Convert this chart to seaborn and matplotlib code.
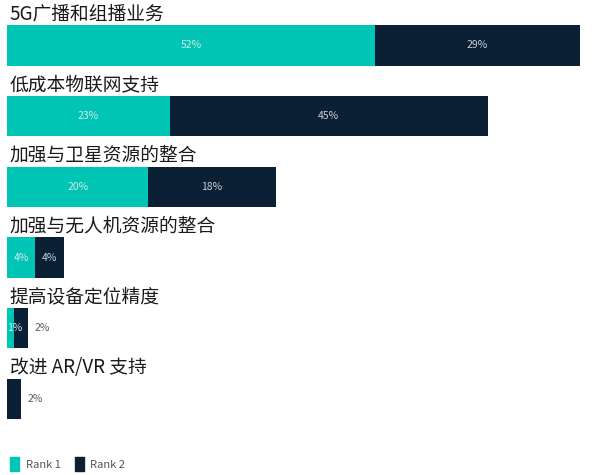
import matplotlib
matplotlib.use("Agg")
import matplotlib.pyplot as plt
import matplotlib.patches as mpatches
import seaborn as sns
import pandas as pd

# data
categories = ["5G广播和组播业务", "低成本物联网支持", "加强与卫星资源的整合",
              "加强与无人机资源的整合", "提高设备定位精度", "改进 AR/VR 支持"]
rank1 = [52, 23, 20, 4, 1, 0]
rank2 = [29, 45, 18, 4, 2, 2]

teal = "#00C4B4"
navy = "#0B1F35"

sns.set_theme(style="white")
plt.rcParams["font.family"] = ["Noto Sans CJK SC", "DejaVu Sans"]

df = pd.DataFrame({"cat": categories, "rank1": rank1, "rank2": rank2})
df["total"] = df["rank1"] + df["rank2"]

fig = plt.figure(figsize=(5.98, 4.75), dpi=100)
ax = fig.add_axes([7 / 598, 0, 591 / 598, 1])

# stacked bars: total in navy, rank 1 drawn over it
sns.barplot(data=df, x="total", y="cat", color=navy, width=0.57,
            saturation=1, linewidth=0, ax=ax, orient="h")
sns.barplot(data=df, x="rank1", y="cat", color=teal, width=0.57,
            saturation=1, linewidth=0, ax=ax, orient="h")

px_per_unit = 7.07
ax.set_xlim(0, 591 / px_per_unit)
ax.set_ylim((475 - 45.5) / 70.7, -45.5 / 70.7)
ax.axis("off")

for i, row in df.iterrows():
    ax.text(0.4, i - 0.45, row["cat"], fontsize=13.5, color="#1a1a1a",
            ha="left", va="center")
    r1, r2 = row["rank1"], row["rank2"]
    if r1 > 0:
        xpos = r1 / 2 if r1 > 2 else 1.15
        ax.text(xpos, i, f"{r1}%", fontsize=7.5, color="#cdeeea",
                ha="center", va="center", fontweight="medium")
    if r2 > 2:
        ax.text(r1 + r2 / 2, i, f"{r2}%", fontsize=7.5, color="#c9cfd6",
                ha="center", va="center", fontweight="medium")
    elif r2 > 0:
        ax.text(r1 + r2 + 0.9, i, f"{r2}%", fontsize=7.5, color="#5a5a5a",
                ha="left", va="center", fontweight="medium")

handles = [mpatches.Patch(color=teal, label="Rank 1"),
           mpatches.Patch(color=navy, label="Rank 2")]
fig.legend(handles=handles, loc="lower left", bbox_to_anchor=(0.0, -0.012),
           ncol=2, frameon=False, fontsize=8, labelcolor="#555555",
           handlelength=0.8, handleheight=1.5, columnspacing=1.3,
           handletextpad=0.6)

fig.savefig("out.png", dpi=100)
